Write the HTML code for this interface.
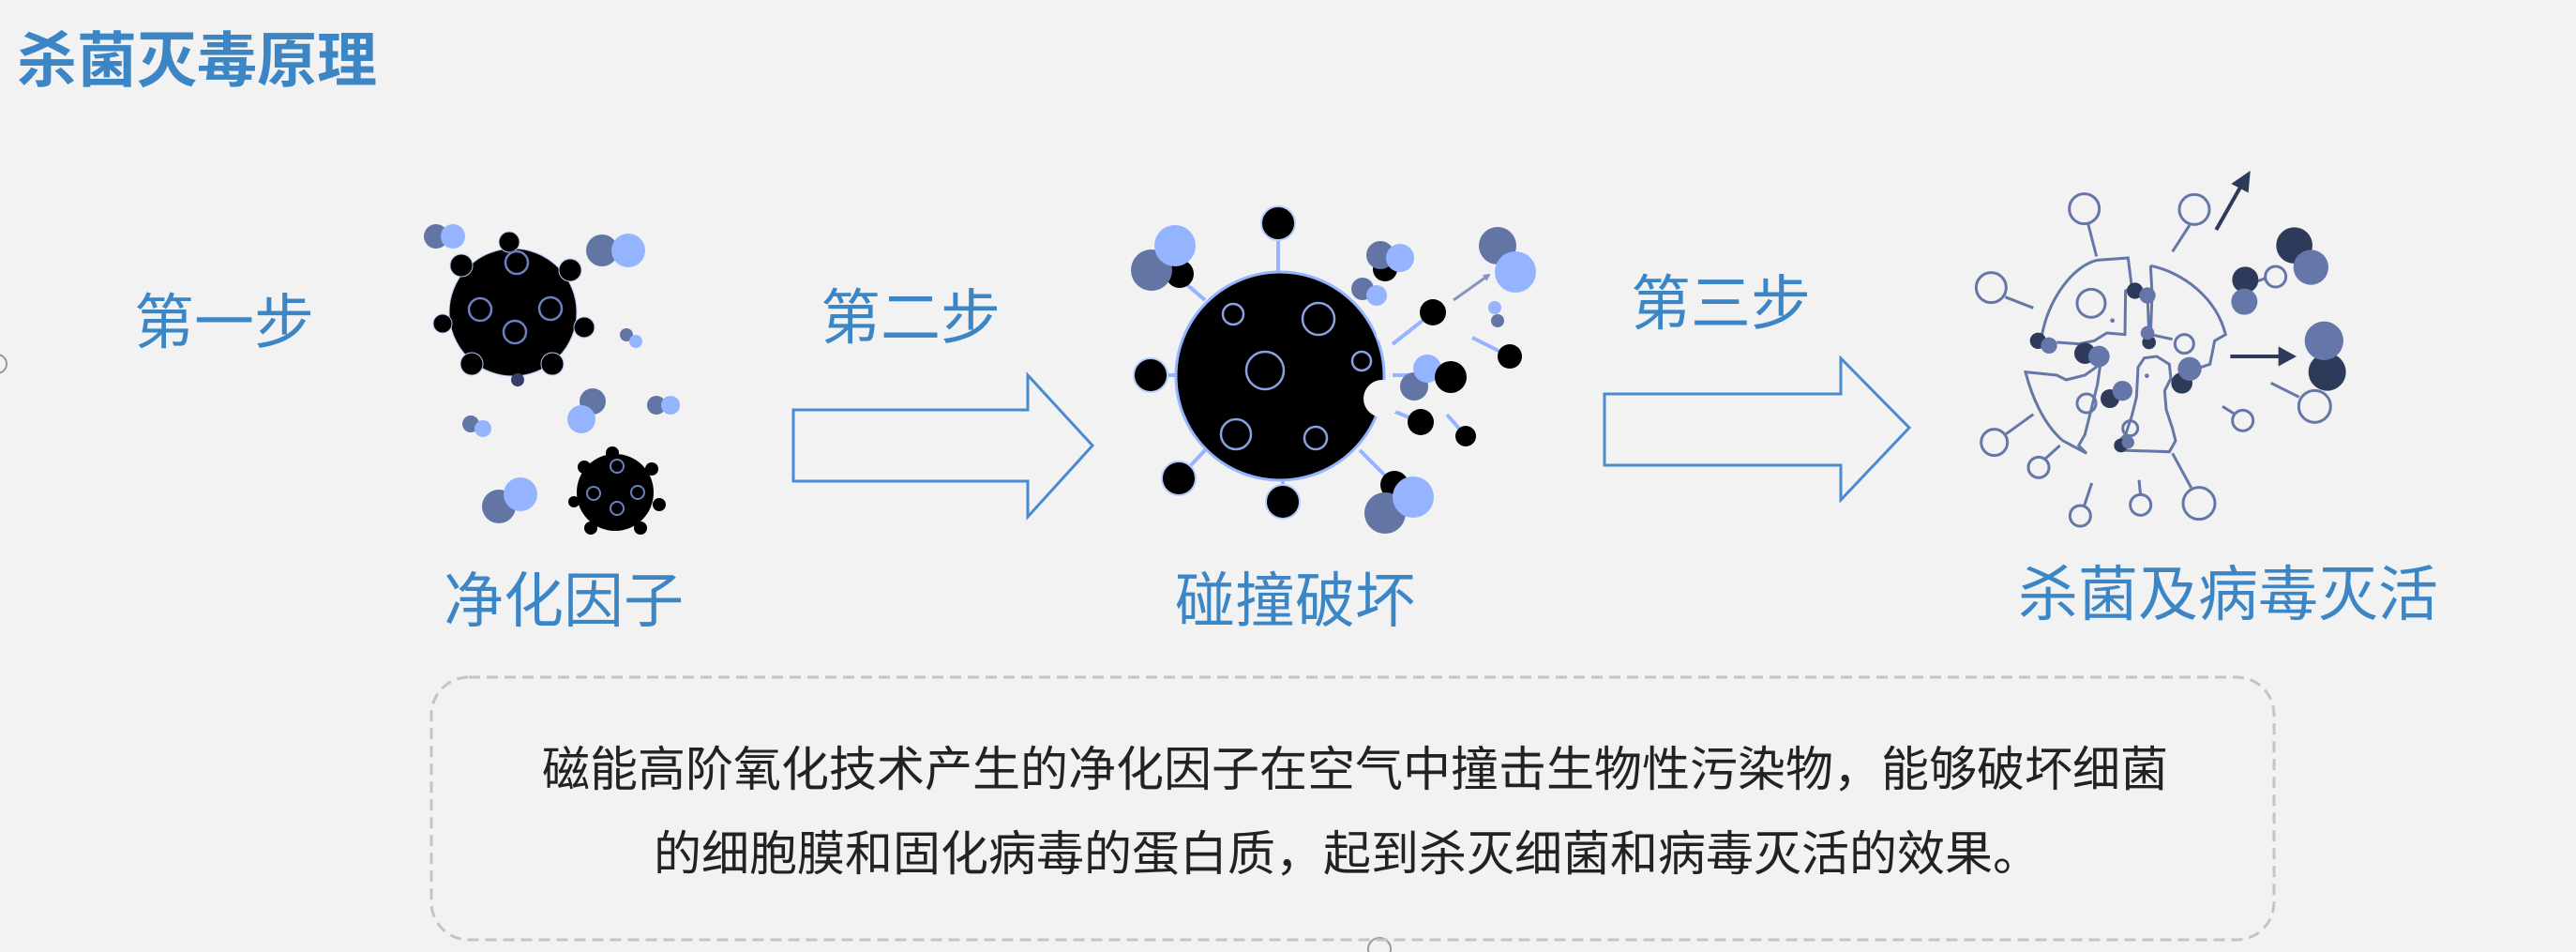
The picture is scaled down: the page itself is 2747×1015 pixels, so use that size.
<!DOCTYPE html>
<html><head><meta charset="utf-8"><style>
body{margin:0;background:#f2f2f2;}
#c{position:relative;width:2747px;height:1015px;overflow:hidden;background:#f2f2f2;font-family:"Liberation Sans","Noto Sans CJK SC",sans-serif;}
.t{position:absolute;line-height:1;white-space:nowrap;color:#3c86c6;font-size:64px;}
.b{position:absolute;line-height:1;white-space:nowrap;color:#222;font-size:51px;}
svg{position:absolute;left:0;top:0;}
</style></head><body><div id="c">
<svg width="2747" height="1015" viewBox="0 0 2747 1015">
<defs>
<marker id="ah" markerWidth="8" markerHeight="8" refX="6" refY="4" orient="auto" markerUnits="userSpaceOnUse"><path d="M0,0 L8,4 L0,8 Z" fill="#8895c0"/></marker>
</defs>
<circle cx="-3" cy="388" r="10" fill="none" stroke="#999" stroke-width="2"/>
<circle cx="1471" cy="1012" r="12" fill="#f2f2f2" stroke="#999" stroke-width="2"/>
<rect x="460" y="722" width="1965" height="280" rx="40" fill="none" stroke="#c4c4c4" stroke-width="3" stroke-dasharray="12,7"/>
<path d="M846,437 L1096,437 L1096,400 L1165,475 L1096,551 L1096,513 L846,513 Z" fill="none" stroke="#4a8ad0" stroke-width="3"/>
<path d="M1711,420 L1963,420 L1963,382 L2036,456 L1963,533 L1963,496 L1711,496 Z" fill="none" stroke="#4a8ad0" stroke-width="3"/>
<g>
<circle cx="465" cy="252" r="13" fill="#6275a5"/><circle cx="483" cy="252" r="13" fill="#94b4ff"/>
<circle cx="642" cy="267" r="17" fill="#6275a5"/><circle cx="670" cy="267" r="18" fill="#94b4ff"/>
<circle cx="668" cy="357" r="7" fill="#6275a5"/><circle cx="678" cy="364" r="7" fill="#94b4ff"/>
<circle cx="632" cy="428" r="14" fill="#6275a5"/><circle cx="620" cy="447" r="15" fill="#94b4ff"/>
<circle cx="700" cy="432" r="10" fill="#6275a5"/><circle cx="715" cy="432" r="10" fill="#94b4ff"/>
<circle cx="502" cy="452" r="9" fill="#6275a5"/><circle cx="515" cy="457" r="9" fill="#94b4ff"/>
<circle cx="532" cy="540" r="18" fill="#6275a5"/><circle cx="555" cy="527" r="18" fill="#94b4ff"/>
<g fill="#000" stroke="#b8c8f0" stroke-width="1">
<circle cx="547" cy="333" r="68"/>
<circle cx="543" cy="258" r="11"/><circle cx="492" cy="283" r="12"/><circle cx="608" cy="288" r="12"/>
<circle cx="472" cy="345" r="10"/><circle cx="623" cy="349" r="11"/><circle cx="503" cy="388" r="12"/><circle cx="589" cy="388" r="12"/>
</g>
<circle cx="552" cy="405" r="7" fill="#34406a"/>
<g fill="none" stroke="#6a80c0" stroke-width="2.5">
<circle cx="551" cy="280" r="12"/><circle cx="512" cy="330" r="12"/><circle cx="587" cy="329" r="12"/><circle cx="549" cy="354" r="12"/>
</g>
<g fill="#000">
<circle cx="656" cy="525" r="41"/>
<circle cx="653" cy="483" r="7"/><circle cx="623" cy="498" r="7"/><circle cx="695" cy="500" r="7"/>
<circle cx="612" cy="535" r="6"/><circle cx="703" cy="538" r="7"/><circle cx="630" cy="563" r="7"/><circle cx="683" cy="563" r="7"/>
</g>
<g fill="none" stroke="#6a80c0" stroke-width="2">
<circle cx="658" cy="497" r="7"/><circle cx="633" cy="526" r="7"/><circle cx="680" cy="525" r="7"/><circle cx="658" cy="542" r="7"/>
</g>
</g>
<g>
<g stroke="#94b4ff" stroke-width="4">
<line x1="1363" y1="238" x2="1363" y2="300"/><line x1="1227" y1="400" x2="1260" y2="400"/>
<line x1="1368" y1="535" x2="1368" y2="500"/><line x1="1257" y1="510" x2="1285" y2="480"/>
<line x1="1250" y1="290" x2="1285" y2="320"/><line x1="1487" y1="517" x2="1450" y2="480"/>
<line x1="1528" y1="333" x2="1485" y2="367"/><line x1="1610" y1="380" x2="1570" y2="360"/>
<line x1="1515" y1="450" x2="1473" y2="433"/><line x1="1563" y1="465" x2="1543" y2="442"/>
<line x1="1508" y1="400" x2="1485" y2="400"/>
</g>
<circle cx="1258" cy="292" r="15" fill="#000"/>
<circle cx="1228" cy="288" r="22" fill="#6275a5"/><circle cx="1253" cy="262" r="22" fill="#94b4ff"/>
<circle cx="1365" cy="401" r="111" fill="#000" stroke="#94b4ff" stroke-width="3"/>
<circle cx="1476" cy="357" r="8" fill="#f2f2f2"/>
<circle cx="1474" cy="425" r="20" fill="#f2f2f2"/>
<circle cx="1472" cy="462" r="10" fill="#f2f2f2"/>
<g fill="#000" stroke="#b8cbff" stroke-width="2">
<circle cx="1363" cy="238" r="18"/><circle cx="1227" cy="400" r="18"/><circle cx="1368" cy="535" r="18"/><circle cx="1257" cy="510" r="18"/>
</g>
<g fill="none" stroke="#8aa0e0" stroke-width="2.5">
<circle cx="1315" cy="335" r="11"/><circle cx="1406" cy="340" r="17"/><circle cx="1349" cy="395" r="20"/>
<circle cx="1318" cy="463" r="16"/><circle cx="1403" cy="467" r="12"/><circle cx="1452" cy="385" r="10"/>
</g>
<circle cx="1487" cy="517" r="15" fill="#000"/>
<circle cx="1477" cy="547" r="22" fill="#6275a5"/><circle cx="1507" cy="530" r="22" fill="#94b4ff"/>
<circle cx="1477" cy="287" r="13" fill="#000"/>
<circle cx="1472" cy="272" r="15" fill="#6275a5"/><circle cx="1493" cy="275" r="15" fill="#94b4ff"/>
<circle cx="1453" cy="308" r="12" fill="#6275a5"/><circle cx="1468" cy="315" r="11" fill="#94b4ff"/>
<circle cx="1528" cy="333" r="14" fill="#000"/>
<line x1="1550" y1="320" x2="1588" y2="293" stroke="#8895c0" stroke-width="3" marker-end="url(#ah)"/>
<circle cx="1597" cy="262" r="20" fill="#6275a5"/><circle cx="1616" cy="290" r="22" fill="#94b4ff"/>
<circle cx="1594" cy="328" r="7" fill="#94b4ff"/><circle cx="1597" cy="342" r="7" fill="#6275a5"/>
<circle cx="1610" cy="380" r="13" fill="#000"/>
<circle cx="1508" cy="412" r="15" fill="#6275a5"/><circle cx="1522" cy="393" r="15" fill="#94b4ff"/>
<circle cx="1547" cy="402" r="17" fill="#000"/>
<circle cx="1515" cy="450" r="14" fill="#000"/><circle cx="1563" cy="465" r="11" fill="#000"/>
</g>
<g transform="translate(2060,170) scale(0.33333)">
<g fill="none" stroke="#6477a8" stroke-width="9">
<path d="M350,575 C370,450 450,340 530,322 L628,315 L640,410 L620,420 L618,560 L560,555 L520,580 L470,590 L400,585"/>
<path d="M700,340 C800,360 910,440 940,560 L905,580 L890,655 L860,665 M770,575 L700,560 L705,430 L700,340"/>
<path d="M300,680 L400,690 L430,705 L490,690 L525,665 L540,650 L530,720 L510,800 L490,880 L470,915 L495,940 L420,900 C360,850 320,760 300,680 Z"/>
<path d="M600,930 L760,935 L780,900 L770,860 L750,800 L745,740 L765,700 L760,655 L720,630 L680,635 L660,665 L655,760 L640,820 L620,880 L600,900"/>
<circle cx="488" cy="158" r="48"/><line x1="500" y1="205" x2="527" y2="310"/>
<circle cx="840" cy="160" r="48"/><line x1="825" y1="210" x2="770" y2="295"/>
<circle cx="190" cy="410" r="48"/><line x1="235" y1="440" x2="325" y2="475"/>
<circle cx="200" cy="905" r="42"/><line x1="235" y1="880" x2="325" y2="815"/>
<circle cx="342" cy="985" r="33"/><line x1="360" y1="960" x2="410" y2="915"/>
<circle cx="475" cy="1140" r="33"/><line x1="487" y1="1110" x2="512" y2="1035"/>
<circle cx="668" cy="1105" r="33"/><line x1="668" y1="1075" x2="663" y2="1025"/>
<circle cx="855" cy="1100" r="51"/><line x1="830" y1="1050" x2="770" y2="940"/>
<circle cx="995" cy="835" r="33"/><line x1="970" y1="815" x2="930" y2="790"/>
<circle cx="1225" cy="790" r="51"/><line x1="1175" y1="760" x2="1085" y2="715"/>
<circle cx="1100" cy="375" r="33"/><line x1="1040" y1="390" x2="1068" y2="380"/>
<circle cx="510" cy="460" r="45"/><circle cx="808" cy="590" r="30"/><circle cx="495" cy="780" r="30"/><circle cx="635" cy="860" r="24"/>
<line x1="690" y1="430" x2="695" y2="560"/>
</g>
<circle cx="578" cy="515" r="7" fill="#6477a8"/><circle cx="688" cy="692" r="7" fill="#6477a8"/>
<g fill="#2e3a5a">
<circle cx="340" cy="580" r="26"/><circle cx="490" cy="620" r="34"/><circle cx="650" cy="420" r="26"/><circle cx="695" cy="585" r="22"/>
<circle cx="570" cy="765" r="30"/><circle cx="800" cy="715" r="34"/><circle cx="605" cy="915" r="22"/>
<circle cx="1160" cy="275" r="58"/><circle cx="1003" cy="385" r="42"/><circle cx="1265" cy="680" r="60"/>
</g>
<g fill="#6477a8">
<circle cx="375" cy="595" r="26"/><circle cx="535" cy="630" r="34"/><circle cx="690" cy="435" r="26"/><circle cx="690" cy="555" r="22"/>
<circle cx="610" cy="740" r="32"/><circle cx="825" cy="670" r="38"/><circle cx="628" cy="905" r="20"/>
<circle cx="1213" cy="345" r="56"/><circle cx="1000" cy="455" r="42"/><circle cx="1255" cy="580" r="62"/>
</g>
<g stroke="#2e3a5a" stroke-width="12" fill="#2e3a5a">
<line x1="910" y1="225" x2="995" y2="75"/><path d="M1018,38 L1012,105 L960,78 Z" stroke-width="2"/>
<line x1="955" y1="630" x2="1120" y2="630"/><path d="M1165,630 L1110,600 L1110,660 Z" stroke-width="2"/>
</g>
</g>
</svg>
<div class="t" style="left:18px;top:33px;font-weight:bold;">杀菌灭毒原理</div>
<div class="t" style="left:143px;top:312px;">第一步</div>
<div class="t" style="left:875px;top:307px;">第二步</div>
<div class="t" style="left:1739px;top:292px;">第三步</div>
<div class="t" style="left:473px;top:609px;">净化因子</div>
<div class="t" style="left:1253px;top:609px;">碰撞破坏</div>
<div class="t" style="left:2152px;top:602px;">杀菌及病毒灭活</div>
<div class="b" style="left:578px;top:795px;">磁能高阶氧化技术产生的净化因子在空气中撞击生物性污染物，能够破坏细菌</div>
<div class="b" style="left:697px;top:885px;">的细胞膜和固化病毒的蛋白质，起到杀灭细菌和病毒灭活的效果。</div>
</div></body></html>
